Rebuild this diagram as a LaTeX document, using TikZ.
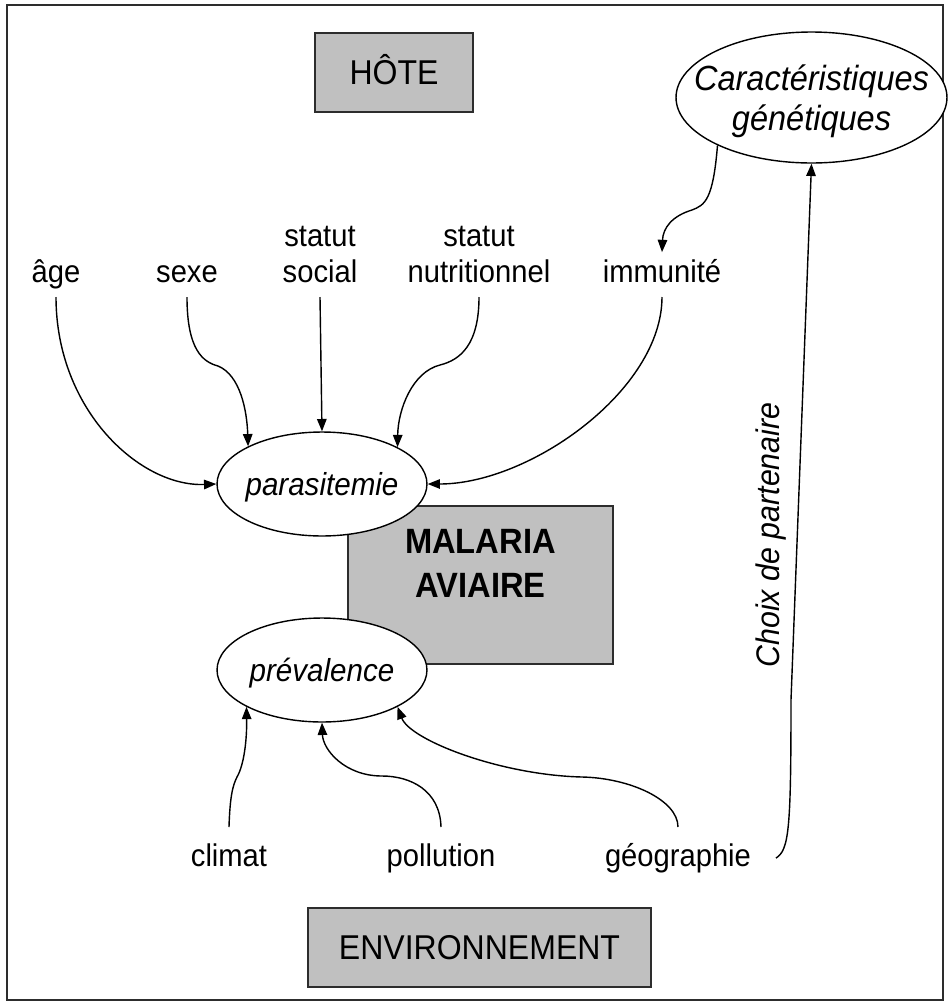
\documentclass[tikz,border=0pt]{standalone}
\usepackage{fontspec}
\setmainfont[FakeStretch=0.93]{Liberation Sans}
\usepackage{tikz}
\usetikzlibrary{arrows.meta,positioning,calc,shapes.geometric}
\definecolor{boxgray}{RGB}{192,192,192}
\definecolor{edgegray}{RGB}{45,45,45}

\begin{document}
\begin{tikzpicture}[x=0.02cm,y=-0.02cm,
  every node/.style={font=\fontsize{17.85}{20.7}\selectfont,align=center},
  lbl/.style={inner xsep=2pt,inner ysep=4pt,text depth=4pt},
  envlbl/.style={inner xsep=2pt,inner ysep=9pt,text height=13pt,text depth=4pt},
  titlebox/.style={draw=edgegray,line width=1.1pt,fill=boxgray,inner sep=0pt,
    font=\fontsize{19.6}{23.5}\selectfont,text height=14pt,text depth=0pt},
  oval/.style={draw,ellipse,fill=white,line width=0.8pt,inner ysep=0pt,inner xsep=-0.1cm,
    text depth=0pt,font=\fontsize{18.1}{21.5}\selectfont\itshape},
  arr/.style={-{Triangle[length=7pt,width=5.4pt]},line width=0.8pt}]
  \useasboundingbox (0,0) rectangle (948,1005);
  \draw[edgegray,line width=1.1pt] (7,5) rectangle (943,1000);
  % Boxes
  \node[titlebox,minimum width=3.16cm,minimum height=1.58cm] (hote) at (394,72.5) {HÔTE};
  \node[titlebox,minimum width=5.3cm,minimum height=3.16cm,
    font=\fontsize{20}{24.9}\selectfont\bfseries] (malaria) at (480.5,585) {MALARIA\\AVIAIRE};
  \node[titlebox,minimum width=6.86cm,minimum height=1.58cm] (env) at (479.5,947.5) {ENVIRONNEMENT};
  % Ellipses
  \node[oval,minimum width=4.2cm,minimum height=2.08cm] (para) at (322,484) {parasitemie};
  \node[oval,minimum width=4.2cm,minimum height=2.08cm] (prev) at (322,670) {prévalence};
  \node[oval,minimum width=5.42cm,minimum height=2.62cm,inner xsep=-0.55cm,text depth=-5pt,
    font=\fontsize{19.9}{22.5}\selectfont\itshape] (gen) at (811.5,97.5) {Caractéristiques\\génétiques};
  % Host factors
  \node[lbl,anchor=south] (age) at (56,297) {âge};
  \node[lbl,anchor=south] (sexe) at (187,297) {sexe};
  \node[lbl,anchor=south] (social) at (320,297) {statut\\social};
  \node[lbl,anchor=south] (nutri) at (479,297) {statut\\nutritionnel};
  \node[lbl,anchor=south] (immun) at (662,297) {immunité};
  % Environment factors
  \node[envlbl,anchor=north] (climat) at (229,827) {climat};
  \node[envlbl,anchor=north] (pollu) at (441,827) {pollution};
  \node[envlbl,anchor=north] (geo) at (678,827) {géographie};
  \node[rotate=90,font=\fontsize{18.6}{21.5}\selectfont\itshape] (choix) at (771,535) {Choix de partenaire};
  % Connectors
  \draw[arr] (gen.207) .. controls (713,200) and (705,205) .. (692,210)
    .. controls (672,216) and (663,228) .. (immun.north);
  \draw[arr] ([xshift=12pt]geo.east) .. controls (789,850) and (791,830) .. (791,700) -- (gen.south);
  \draw[arr] (age.south) .. controls (56,410) and (140,487) .. (para.west);
  \draw[arr] (sexe.south) .. controls (187,350) and (203,362) .. (218,366)
    .. controls (240,375) and (247,410) .. (para.153.7);
  \draw[arr] (social.south) -- (para.north);
  \draw[arr] (nutri.south) .. controls (479,345) and (460,360) .. (440,365)
    .. controls (412,372) and (398,410) .. (para.26.3);
  \draw[arr] (immun.south) .. controls (662,390) and (530,484) .. (para.east);
  \draw[arr] (climat.north) .. controls (230,795) and (233,785) .. (237,777)
    .. controls (244,765) and (247,740) .. (prev.206.3);
  \draw[arr] (pollu.north) .. controls (440,790) and (410,776) .. (382,776)
    .. controls (345,776) and (323,750) .. (prev.south);
  \draw[arr] (geo.north) .. controls (678,800) and (630,778) .. (582,777)
    .. controls (500,775) and (410,740) .. (prev.-26.3);
\end{tikzpicture}
\end{document}
